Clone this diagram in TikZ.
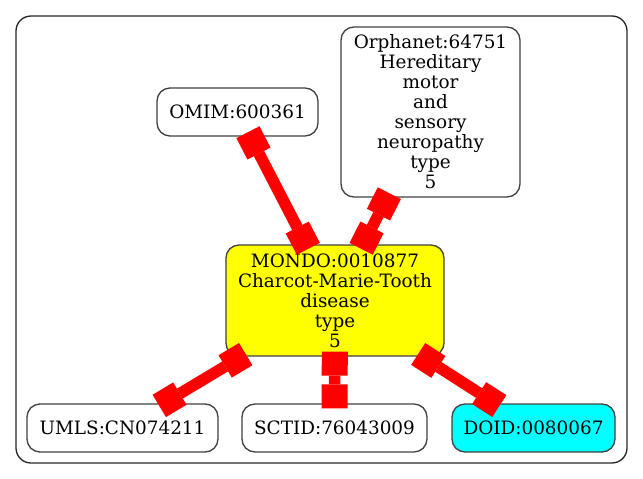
\documentclass[tikz,border=0pt]{standalone}
\usepackage{fontspec}
\setmainfont{DejaVu Serif}
\usepackage{xcolor}
\usetikzlibrary{arrows.meta, positioning, calc}

\definecolor{termyellow}{RGB}{255,255,0}
\definecolor{termcyan}{RGB}{0,255,255}
\definecolor{linkred}{RGB}{255,0,0}

\tikzset{
    termbox/.style={draw=black!75, line width=1.3pt, rounded corners=13pt,
        align=center, inner sep=0pt, font=\fontsize{18.4}{20}\selectfont},
    linkedge/.style={draw=linkred, line width=11.5pt,
        {Square[length=24pt,width=26pt,line width=0pt]}-{Square[length=24pt,width=26pt,line width=0pt]},
        shorten <=-5pt, shorten >=-5pt}
}

\begin{document}
\begin{tikzpicture}[x=1pt, y=-1pt]
    \useasboundingbox (0,0) rectangle (643,479);
    % cluster
    \draw[black!85, line width=1.3pt, rounded corners=15pt] (16,16) rectangle (627,463);

    % nodes
    \node[termbox, minimum width=161pt, minimum height=48pt] (omim) at (237.5,112) {OMIM:600361};
    \node[termbox, minimum width=179pt, minimum height=170pt] (orpha) at (430.5,112)
        {Orphanet:64751\\Hereditary\\motor\\and\\sensory\\neuropathy\\type\\5};
    \node[termbox, fill=termyellow, minimum width=218pt, minimum height=111pt] (mondo) at (335,300.5)
        {MONDO:0010877\\Charcot-Marie-Tooth\\disease\\type\\5};
    \node[termbox, minimum width=191pt, minimum height=48pt] (umls) at (122.5,428) {UMLS:CN074211};
    \node[termbox, minimum width=185pt, minimum height=48pt] (sctid) at (334.5,428) {SCTID:76043009};
    \node[termbox, fill=termcyan, minimum width=163pt, minimum height=48pt] (doid) at (533.5,428) {DOID:0080067};

    % links
    \draw[linkedge] (omim) -- (mondo);
    \draw[linkedge] (orpha) -- (mondo);
    \draw[linkedge] (mondo) -- (umls);
    \draw[linkedge] (mondo) -- (sctid);
    \draw[linkedge] (mondo) -- (doid);
\end{tikzpicture}
\end{document}
